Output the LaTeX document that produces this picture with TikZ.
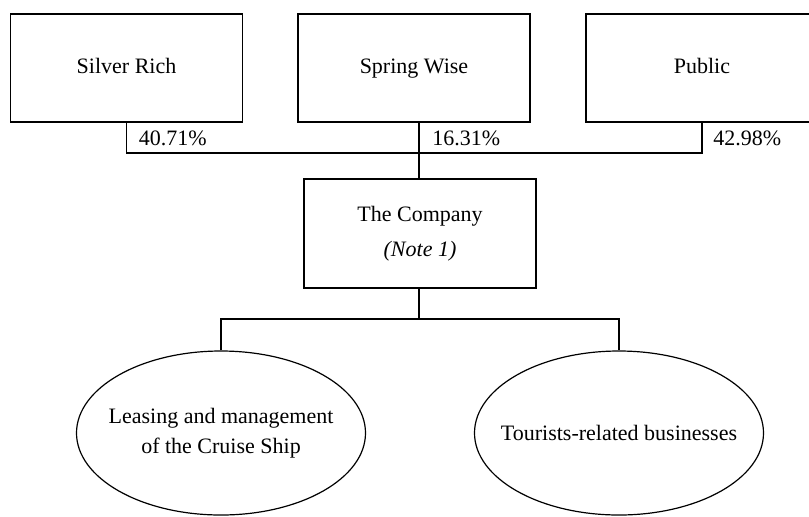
\documentclass[tikz,border=0pt]{standalone}
\usepackage{fontspec}
\setmainfont{Liberation Serif}
\usetikzlibrary{positioning,shapes.geometric,calc}

\begin{document}
\begin{tikzpicture}[
  x=0.5pt,y=-0.5pt,
  font=\fontsize{11}{15}\selectfont,
  holder/.style={draw=black,line width=0.6pt,minimum width=116pt,minimum height=54pt,
                 inner sep=0pt,align=center},
  owner/.style={holder,text height=7.5pt,text depth=2.5pt},
  biz/.style={draw=black,ellipse,line width=0.6pt,minimum width=144.5pt,minimum height=82pt,
              inner xsep=-20pt,inner ysep=-5pt,align=center},
  pct/.style={anchor=west,inner sep=0pt},
  ln/.style={draw=black,line width=0.6pt}
]
\clip (0,0) rectangle (809,516);
\useasboundingbox (0,0) rectangle (809,516);

% shareholders
\node[owner] (silver) at (126.5,68) {Silver Rich};
\node[owner] (spring) at (414,68) {Spring Wise};
\node[owner] (public) at (702,68) {Public};

% the company
\node[holder,minimum height=54.5pt] (company) at (420,233.5)
  {The Company\\[2.5pt]\textit{(Note 1)}};

% businesses
\node[biz] (lease) at (221,433) {Leasing and management\\of the Cruise Ship};
\node[biz] (tour) at (619,433) {Tourists-related businesses};

% shareholding lines
\coordinate (bus) at (419,153);
\draw[ln] (silver.south) |- (bus) -| (public.south);
\draw[ln] (company.north -| bus) -- (bus |- spring.south);
\node[pct] (p1) at ($(silver.south)+(12,16)$) {40.71\%};
\node[pct] (p2) at ($(bus |- spring.south)+(13,16)$) {16.31\%};
\node[pct] (p3) at ($(public.south)+(11,16)$) {42.98\%};

% business lines
\coordinate (fork) at (419,319);
\draw[ln] (lease.north) |- (fork) -| (tour.north);
\draw[ln] (company.south -| fork) -- (fork);
\end{tikzpicture}
\end{document}
